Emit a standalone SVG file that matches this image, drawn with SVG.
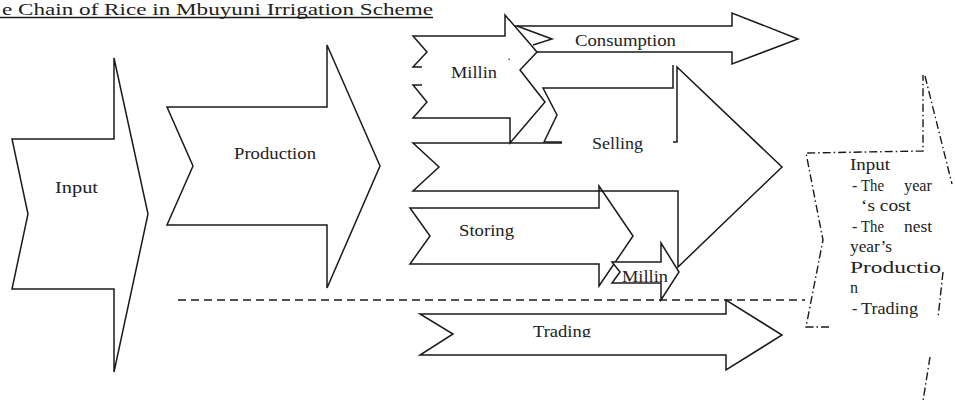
<svg xmlns="http://www.w3.org/2000/svg" width="955" height="401" viewBox="0 0 955 401">
<style>
.s{fill:none;stroke:#1a1a1a;stroke-width:1.5;stroke-linejoin:miter}
.w{fill:#fff;stroke:#1a1a1a;stroke-width:1.5}
.t{font-family:"Liberation Serif","Times New Roman",serif;font-size:16.5px;fill:#222}
.b{font-family:"Liberation Serif","Times New Roman",serif;font-size:16px;fill:#222}
.dd{fill:none;stroke:#1a1a1a;stroke-width:1.4;stroke-dasharray:8,3,1.5,3}
.dash{fill:none;stroke:#1a1a1a;stroke-width:1.5;stroke-dasharray:8,5}
</style>
<defs>
<clipPath id="clipTrading"><rect x="400" y="300" width="300" height="37.5"/></clipPath>
</defs>
<rect width="955" height="401" fill="#fff"/>
<g id="title">
<text class="t" x="2" y="15" font-size="15.5" textLength="431" lengthAdjust="spacingAndGlyphs">e Chain of Rice in Mbuyuni Irrigation Scheme</text>
<line x1="0" y1="17.5" x2="433" y2="17.5" stroke="#1a1a1a" stroke-width="1.3"/>
</g>
<g id="connectors">
<line class="dash" x1="178" y1="300" x2="805" y2="300"/>
</g>
<g id="input">
<polygon class="s" points="12,139 114,139 114,58 148,214 114,372 114,289 12,289 28,214"/>
<text class="t" x="55" y="193" textLength="43" lengthAdjust="spacingAndGlyphs">Input</text>
</g>
<g id="production">
<polygon class="s" points="167,107 327,107 327,45 380,166 327,288 327,225 167,225 193,166"/>
<text class="t" x="234" y="159" textLength="82" lengthAdjust="spacingAndGlyphs">Production</text>
</g>
<g id="selling">
<polyline class="s" points="562,143 413,143 439,167 413,191 678,191 678,267 782,167 677,67 677,142 673,142"/>
<polyline class="s" points="673,65 673,88 543,88 557,115 544,142 562,142"/>
<text class="t" x="592" y="149" textLength="51" lengthAdjust="spacingAndGlyphs">Selling</text>
</g>
<g id="storing">
<polygon class="s" points="410,208 599,208 599,186 633,236 599,286 599,264 410,264 430,236"/>
<text class="t" x="459" y="236" textLength="55" lengthAdjust="spacingAndGlyphs">Storing</text>
</g>
<g id="millin-small">
<polygon class="w" points="612,262 661,262 661,243 679,272 661,300 661,283 612,283 620,272"/>
<text class="t" x="622" y="282" textLength="46" lengthAdjust="spacingAndGlyphs">Millin</text>
</g>
<g id="millin-top">
<polyline class="s" points="422,67 413,67 427,52 413,36 505,36 505,15 537,52 520,70 545,102 510,143 510,118 413,118 427,102 413,85 422,85"/>
<rect x="508.5" y="58.5" width="1.2" height="1.6" fill="#333"/>
<text class="t" x="451" y="78" textLength="46" lengthAdjust="spacingAndGlyphs">Millin</text>
</g>
<g id="consumption">
<polyline class="s" points="515,26 732,26 732,13 798,39 732,64 732,52 537,52"/>
<polyline class="s" points="517,26 552,39 533,45"/>
<text class="t" x="575" y="46" textLength="101" lengthAdjust="spacingAndGlyphs">Consumption</text>
</g>
<g id="trading">
<polygon class="s" points="420,314 726,314 726,300 782,335 726,370 726,355 420,355 453,334"/>
<text class="t" x="533" y="337" textLength="58" lengthAdjust="spacingAndGlyphs" clip-path="url(#clipTrading)">Trading</text>
</g>
<g id="input-next">
<path class="dd" d="M829,327 L806,327 L823,240 L806,153 L923,151 L923,75"/>
<path class="dd" d="M925,76 L952,184"/>
<path class="dd" d="M943,272 L938,318"/>
<path class="dd" d="M930,357 L923,401"/>
<text class="b" x="850" y="170" textLength="40" lengthAdjust="spacingAndGlyphs">Input</text>
<text class="b" x="852" y="190.5">-</text>
<text class="b" x="861" y="190.5" textLength="23" lengthAdjust="spacingAndGlyphs">The</text>
<text class="b" x="932" y="190.5" text-anchor="end" textLength="28" lengthAdjust="spacingAndGlyphs">year</text>
<text class="b" x="861" y="211" textLength="50" lengthAdjust="spacingAndGlyphs">‘s cost</text>
<text class="b" x="852" y="231.5">-</text>
<text class="b" x="861" y="231.5" textLength="23" lengthAdjust="spacingAndGlyphs">The</text>
<text class="b" x="932" y="231.5" text-anchor="end" textLength="28" lengthAdjust="spacingAndGlyphs">nest</text>
<text class="b" x="850" y="252" textLength="42" lengthAdjust="spacingAndGlyphs">year’s</text>
<text class="b" x="850" y="272.5" textLength="91" lengthAdjust="spacingAndGlyphs">Productio</text>
<text class="b" x="850" y="293">n</text>
<text class="b" x="852" y="313.5">-</text>
<text class="b" x="861" y="313.5" textLength="57" lengthAdjust="spacingAndGlyphs">Trading</text>
</g>
</svg>
